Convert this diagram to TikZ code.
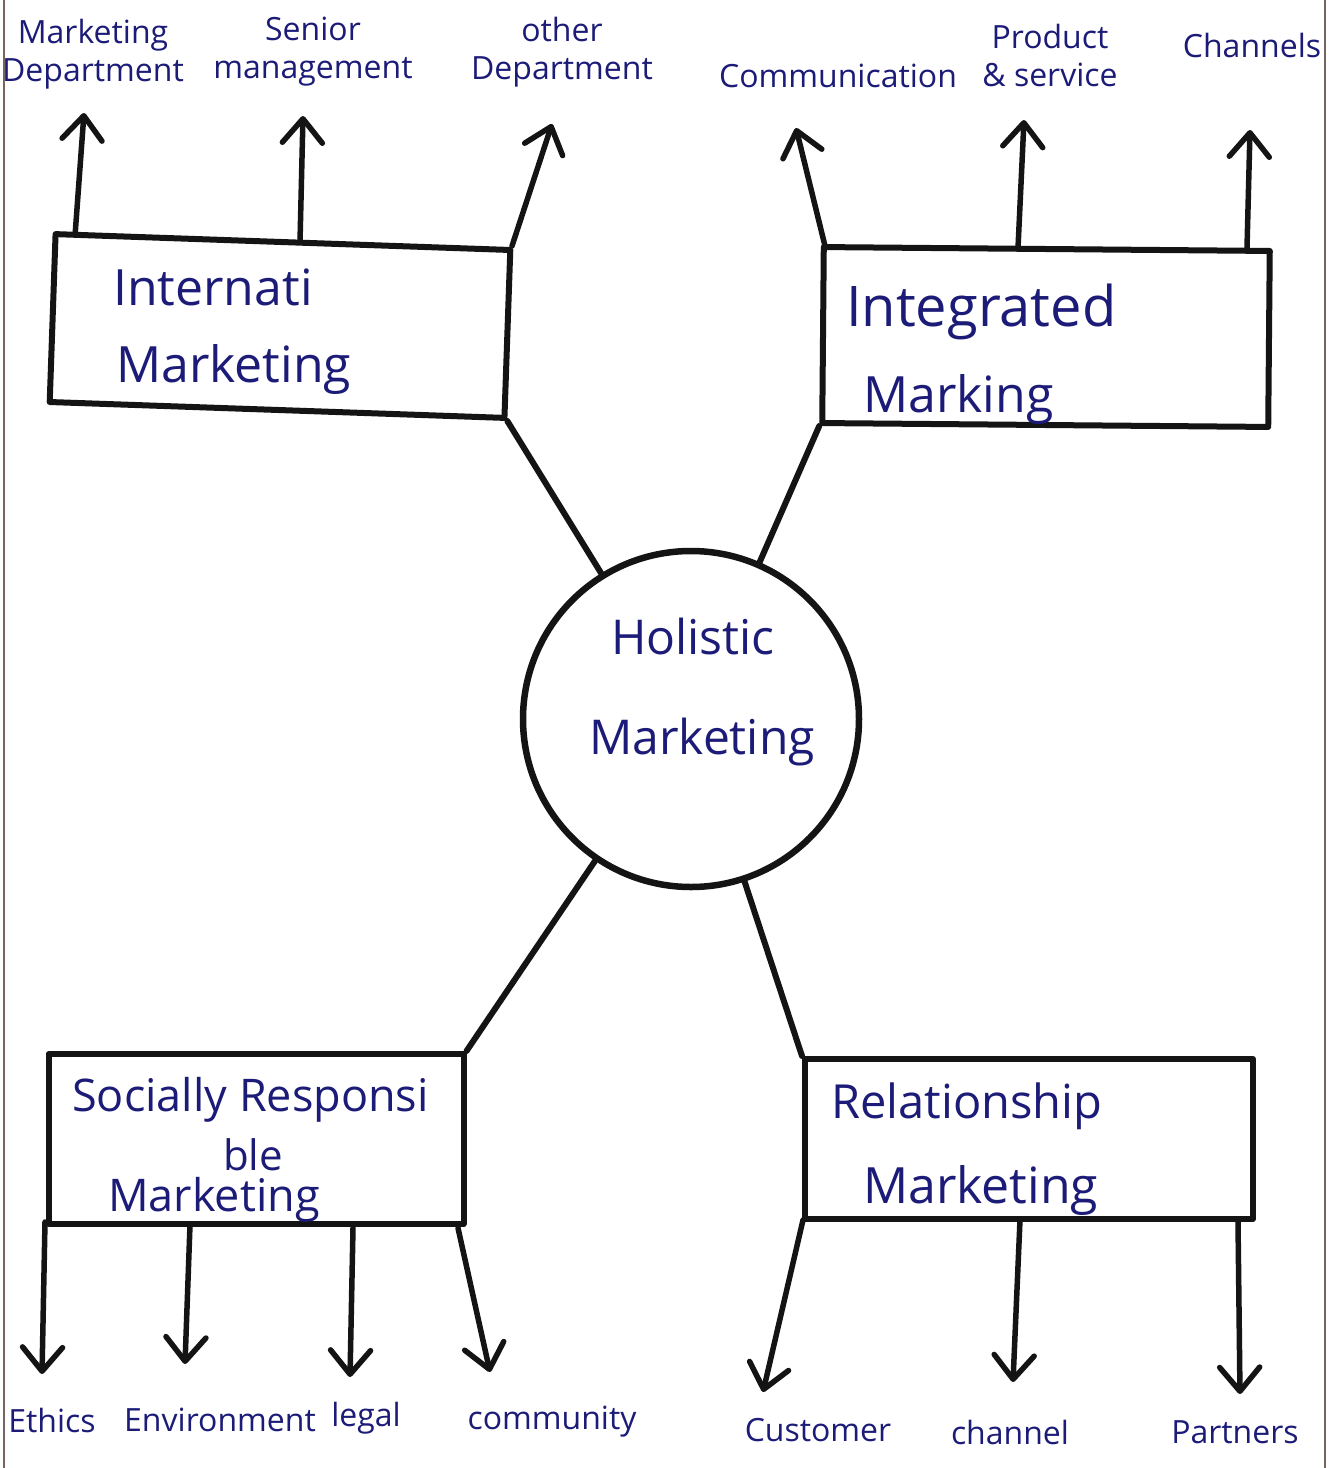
\documentclass[tikz,border=0pt]{standalone}
\usepackage{fontspec}
\setmainfont{Open Sans}
\usetikzlibrary{arrows.meta}
\definecolor{ink}{RGB}{28,28,120}
\definecolor{pen}{RGB}{20,20,20}
\definecolor{paperedge}{RGB}{120,100,95}
\tikzset{
  lab/.style={text=ink, font=\fontsize{32}{38}\selectfont, align=center, inner sep=0pt},
  boxtext/.style={text=ink, font=\fontsize{50}{60}\selectfont, inner sep=0pt, anchor=west},
  hubtext/.style={text=ink, font=\fontsize{48}{58}\selectfont, inner sep=0pt},
  areabox/.style={draw=pen, line width=6pt, fill=white, rectangle, inner sep=0pt, line join=round},
  hubcircle/.style={draw=pen, line width=6.5pt, fill=white, circle, inner sep=0pt, minimum size=336pt},
  spoke/.style={draw=pen, line width=6pt, line cap=round},
  arr/.style={draw=pen, line width=5.5pt, line cap=round, line join=round,
              -{Straight Barb[length=24pt,width=40pt,line cap=round,line join=round]}},
  edgeline/.style={draw=paperedge, line width=1.8pt}
}
\begin{document}
\begin{tikzpicture}[x=1pt,y=-1pt]
\useasboundingbox (0,0) rectangle (1335,1468);
\fill[white] (0,0) rectangle (1335,1468);

% sheet edges
\draw[edgeline] (4,0) -- (4,1468);
\draw[edgeline] (1325,0) -- (1325,1468);

% ---- coordinates for the outgoing arrows ----
% internal marketing (upwards)
\coordinate (s11) at (75,236);   \coordinate (t11) at (84,113);
\coordinate (s12) at (300,242);  \coordinate (t12) at (303,116);
\coordinate (s13) at (512,246);  \coordinate (t13) at (552,124);
% integrated marketing (upwards)
\coordinate (s21) at (826,250);  \coordinate (t21) at (796,128);
\coordinate (s22) at (1018,248); \coordinate (t22) at (1024,120);
\coordinate (s23) at (1247,248); \coordinate (t23) at (1250,130);
% socially responsible marketing (downwards)
\coordinate (s31) at (45,1222);  \coordinate (t31) at (42,1374);
\coordinate (s32) at (190,1225); \coordinate (t32) at (185,1364);
\coordinate (s33) at (353,1228); \coordinate (t33) at (350,1377);
\coordinate (s34) at (458,1228); \coordinate (t34) at (490,1372);
% relationship marketing (downwards)
\coordinate (s41) at (803,1220); \coordinate (t41) at (763,1392);
\coordinate (s42) at (1020,1220);\coordinate (t42) at (1013,1382);
\coordinate (s43) at (1238,1222);\coordinate (t43) at (1240,1394);

\foreach \a in {11,12,13,21,22,23,31,32,33,34,41,42,43}
  \draw[arr] (s\a) -- (t\a);

% ---- central hub and the four areas ----
\node[hubcircle] (hub) at (691,719) {};
\node[areabox, minimum width=455pt, minimum height=168pt, rotate=-2] (b1) at (280,326) {};
\node[areabox, minimum width=446pt, minimum height=176pt, rotate=-0.5] (b2) at (1046,337) {};
\node[areabox, minimum width=415pt, minimum height=170pt] (b3) at (256,1139) {};
\node[areabox, minimum width=448pt, minimum height=160pt] (b4) at (1029,1139) {};

% spokes from the hub to each area
\draw[spoke] (hub) -- (b1.south east);
\draw[spoke] (hub) -- (b2.south west);
\draw[spoke] (hub) -- (b3.north east);
\draw[spoke] (hub) -- (b4.north west);

% ---- texts in the hub and the areas ----
\node[hubtext] (h1) at (693,636) {Holistic};
\node[hubtext] (h2) at (702,742) {Marketing};

\node[boxtext] (b1a) at (113,287) {Internati};
\node[boxtext] (b1b) at (116,370) {Marketing};

\node[boxtext, font=\fontsize{56}{66}\selectfont] (b2a) at (846,312) {Integrated};
\node[boxtext] (b2b) at (863,400) {Marking};

\node[boxtext, font=\fontsize{45}{54}\selectfont] (b3a) at (72,1100) {Socially Responsi};
\node[hubtext, font=\fontsize{42}{50}\selectfont] (b3b) at (253,1155) {ble};
\node[boxtext, font=\fontsize{45}{54}\selectfont] (b3c) at (108,1200) {Marketing};

\node[boxtext, font=\fontsize{47}{56}\selectfont] (b4a) at (831,1106) {Relationship};
\node[boxtext] (b4b) at (863,1190) {Marketing};

% ---- labels at the arrow ends ----
\node[lab] (l11) at (93,54) {Marketing\\Department};
\node[lab] (l12) at (313,52) {Senior\\management};
\node[lab] (l13) at (562,52) {other\\Department};
\node[lab] (l21) at (838,76) {Communication};
\node[lab] (l22) at (1050,55) {Product\\\& service};
\node[lab] (l23) at (1252,45) {Channels};

\node[lab] (l31) at (52,1420) {Ethics};
\node[lab] (l32) at (220,1420) {Environment};
\node[lab] (l33) at (366,1418) {legal};
\node[lab] (l34) at (552,1422) {community};
\node[lab] (l41) at (818,1430) {Customer};
\node[lab] (l42) at (1010,1432) {channel};
\node[lab] (l43) at (1235,1432) {Partners};
\end{tikzpicture}
\end{document}
